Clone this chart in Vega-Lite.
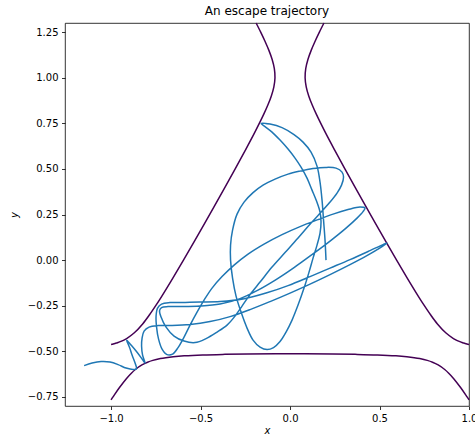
{
  "$schema": "https://vega.github.io/schema/vega-lite/v6.json",
  "autosize": {"type": "none"},
  "padding": {"left": 65, "top": 23, "right": 6, "bottom": 31},
  "width": 404,
  "height": 383,
  "background": "white",
  "title": {"text": "An escape trajectory", "font": "DejaVu Sans", "fontSize": 12, "fontWeight": "normal", "color": "black", "anchor": "middle", "offset": 2},
  "config": {
    "view": {"stroke": "black", "strokeWidth": 0.8},
    "axis": {"grid": false, "domain": false, "tickColor": "black", "tickSize": 3.5, "tickWidth": 0.8, "labelFont": "DejaVu Sans", "labelFontSize": 10, "labelColor": "black", "labelPadding": 3.5, "titleFont": "DejaVu Sans", "titleFontSize": 10, "titleFontStyle": "italic", "titleFontWeight": "normal", "titleColor": "black", "labelFlush": false, "labelOverlap": false, "labelBound": false}
  },
  "datasets": {
    "contour": [
      {"b": "L", "i": 0, "x": -1.0, "y": -0.463},
      {"b": "L", "i": 1, "x": -0.9881, "y": -0.46},
      {"b": "L", "i": 2, "x": -0.9706, "y": -0.455},
      {"b": "L", "i": 3, "x": -0.9558, "y": -0.45},
      {"b": "L", "i": 4, "x": -0.913, "y": -0.43},
      {"b": "L", "i": 5, "x": -0.8716, "y": -0.4},
      {"b": "L", "i": 6, "x": -0.8236, "y": -0.35},
      {"b": "L", "i": 7, "x": -0.7852, "y": -0.3},
      {"b": "L", "i": 8, "x": -0.7506, "y": -0.25},
      {"b": "L", "i": 9, "x": -0.7179, "y": -0.2},
      {"b": "L", "i": 10, "x": -0.6557, "y": -0.1},
      {"b": "L", "i": 11, "x": -0.5955, "y": 0.0},
      {"b": "L", "i": 12, "x": -0.5364, "y": 0.1},
      {"b": "L", "i": 13, "x": -0.478, "y": 0.2},
      {"b": "L", "i": 14, "x": -0.4203, "y": 0.3},
      {"b": "L", "i": 15, "x": -0.3631, "y": 0.4},
      {"b": "L", "i": 16, "x": -0.3065, "y": 0.5},
      {"b": "L", "i": 17, "x": -0.251, "y": 0.6},
      {"b": "L", "i": 18, "x": -0.1971, "y": 0.7},
      {"b": "L", "i": 19, "x": -0.1467, "y": 0.8},
      {"b": "L", "i": 20, "x": -0.124, "y": 0.85},
      {"b": "L", "i": 21, "x": -0.1045, "y": 0.9},
      {"b": "L", "i": 22, "x": -0.0904, "y": 0.95},
      {"b": "L", "i": 23, "x": -0.0842, "y": 1.0},
      {"b": "L", "i": 24, "x": -0.0877, "y": 1.05},
      {"b": "L", "i": 25, "x": -0.0999, "y": 1.1},
      {"b": "L", "i": 26, "x": -0.1181, "y": 1.15},
      {"b": "L", "i": 27, "x": -0.14, "y": 1.2},
      {"b": "L", "i": 28, "x": -0.164, "y": 1.25},
      {"b": "L", "i": 29, "x": -0.1895, "y": 1.3},
      {"b": "R", "i": 0, "x": 1.0, "y": -0.463},
      {"b": "R", "i": 1, "x": 0.9881, "y": -0.46},
      {"b": "R", "i": 2, "x": 0.9706, "y": -0.455},
      {"b": "R", "i": 3, "x": 0.9558, "y": -0.45},
      {"b": "R", "i": 4, "x": 0.913, "y": -0.43},
      {"b": "R", "i": 5, "x": 0.8716, "y": -0.4},
      {"b": "R", "i": 6, "x": 0.8236, "y": -0.35},
      {"b": "R", "i": 7, "x": 0.7852, "y": -0.3},
      {"b": "R", "i": 8, "x": 0.7506, "y": -0.25},
      {"b": "R", "i": 9, "x": 0.7179, "y": -0.2},
      {"b": "R", "i": 10, "x": 0.6557, "y": -0.1},
      {"b": "R", "i": 11, "x": 0.5955, "y": 0.0},
      {"b": "R", "i": 12, "x": 0.5364, "y": 0.1},
      {"b": "R", "i": 13, "x": 0.478, "y": 0.2},
      {"b": "R", "i": 14, "x": 0.4203, "y": 0.3},
      {"b": "R", "i": 15, "x": 0.3631, "y": 0.4},
      {"b": "R", "i": 16, "x": 0.3065, "y": 0.5},
      {"b": "R", "i": 17, "x": 0.251, "y": 0.6},
      {"b": "R", "i": 18, "x": 0.1971, "y": 0.7},
      {"b": "R", "i": 19, "x": 0.1467, "y": 0.8},
      {"b": "R", "i": 20, "x": 0.124, "y": 0.85},
      {"b": "R", "i": 21, "x": 0.1045, "y": 0.9},
      {"b": "R", "i": 22, "x": 0.0904, "y": 0.95},
      {"b": "R", "i": 23, "x": 0.0842, "y": 1.0},
      {"b": "R", "i": 24, "x": 0.0877, "y": 1.05},
      {"b": "R", "i": 25, "x": 0.0999, "y": 1.1},
      {"b": "R", "i": 26, "x": 0.1181, "y": 1.15},
      {"b": "R", "i": 27, "x": 0.14, "y": 1.2},
      {"b": "R", "i": 28, "x": 0.164, "y": 1.25},
      {"b": "R", "i": 29, "x": 0.1895, "y": 1.3},
      {"b": "B", "i": 0, "x": -1.0, "y": -0.766},
      {"b": "B", "i": 1, "x": -0.9891, "y": -0.75},
      {"b": "B", "i": 2, "x": -0.954, "y": -0.7},
      {"b": "B", "i": 3, "x": -0.9147, "y": -0.65},
      {"b": "B", "i": 4, "x": -0.8867, "y": -0.62},
      {"b": "B", "i": 5, "x": -0.8643, "y": -0.6},
      {"b": "B", "i": 6, "x": -0.8277, "y": -0.575},
      {"b": "B", "i": 7, "x": -0.7962, "y": -0.56},
      {"b": "B", "i": 8, "x": -0.7669, "y": -0.55},
      {"b": "B", "i": 9, "x": -0.7244, "y": -0.54},
      {"b": "B", "i": 10, "x": -0.694, "y": -0.535},
      {"b": "B", "i": 11, "x": -0.6526, "y": -0.53},
      {"b": "B", "i": 12, "x": -0.5915, "y": -0.525},
      {"b": "B", "i": 13, "x": -0.4883, "y": -0.52},
      {"b": "B", "i": 14, "x": -0.3764, "y": -0.517},
      {"b": "B", "i": 15, "x": -0.2371, "y": -0.515},
      {"b": "B", "i": 16, "x": 0.0, "y": -0.5139},
      {"b": "B", "i": 17, "x": 0.2371, "y": -0.515},
      {"b": "B", "i": 18, "x": 0.3764, "y": -0.517},
      {"b": "B", "i": 19, "x": 0.4883, "y": -0.52},
      {"b": "B", "i": 20, "x": 0.5915, "y": -0.525},
      {"b": "B", "i": 21, "x": 0.6526, "y": -0.53},
      {"b": "B", "i": 22, "x": 0.694, "y": -0.535},
      {"b": "B", "i": 23, "x": 0.7244, "y": -0.54},
      {"b": "B", "i": 24, "x": 0.7669, "y": -0.55},
      {"b": "B", "i": 25, "x": 0.7962, "y": -0.56},
      {"b": "B", "i": 26, "x": 0.8277, "y": -0.575},
      {"b": "B", "i": 27, "x": 0.8643, "y": -0.6},
      {"b": "B", "i": 28, "x": 0.8867, "y": -0.62},
      {"b": "B", "i": 29, "x": 0.9147, "y": -0.65},
      {"b": "B", "i": 30, "x": 0.954, "y": -0.7},
      {"b": "B", "i": 31, "x": 0.9891, "y": -0.75},
      {"b": "B", "i": 32, "x": 1.0, "y": -0.766}
    ],
    "traj": [
      {"i": 1, "x": 0.201, "y": 0.0},
      {"i": 2, "x": 0.1955, "y": 0.1096},
      {"i": 3, "x": 0.1872, "y": 0.2193},
      {"i": 4, "x": 0.1788, "y": 0.3289},
      {"i": 5, "x": 0.1676, "y": 0.4276},
      {"i": 6, "x": 0.1508, "y": 0.5154},
      {"i": 7, "x": 0.1173, "y": 0.5921},
      {"i": 8, "x": 0.0726, "y": 0.6469},
      {"i": 9, "x": 0.0223, "y": 0.688},
      {"i": 10, "x": -0.0447, "y": 0.7264},
      {"i": 11, "x": -0.1117, "y": 0.7456},
      {"i": 12, "x": -0.162, "y": 0.7495},
      {"i": 13, "x": -0.1397, "y": 0.7319},
      {"i": 14, "x": -0.1006, "y": 0.7018},
      {"i": 15, "x": -0.0559, "y": 0.6579},
      {"i": 16, "x": -0.0112, "y": 0.6086},
      {"i": 17, "x": 0.0279, "y": 0.5592},
      {"i": 18, "x": 0.0615, "y": 0.5099},
      {"i": 19, "x": 0.095, "y": 0.4496},
      {"i": 20, "x": 0.1229, "y": 0.3838},
      {"i": 21, "x": 0.148, "y": 0.3235},
      {"i": 22, "x": 0.1676, "y": 0.2632},
      {"i": 23, "x": 0.1732, "y": 0.2083},
      {"i": 24, "x": 0.1676, "y": 0.148},
      {"i": 25, "x": 0.1508, "y": 0.0822},
      {"i": 26, "x": 0.1285, "y": 0.011},
      {"i": 27, "x": 0.1061, "y": -0.0658},
      {"i": 28, "x": 0.0782, "y": -0.1535},
      {"i": 29, "x": 0.0447, "y": -0.2467},
      {"i": 30, "x": 0.0112, "y": -0.3289},
      {"i": 31, "x": -0.0223, "y": -0.3947},
      {"i": 32, "x": -0.0559, "y": -0.4468},
      {"i": 33, "x": -0.0922, "y": -0.4797},
      {"i": 34, "x": -0.1285, "y": -0.4907},
      {"i": 35, "x": -0.1676, "y": -0.477},
      {"i": 36, "x": -0.2067, "y": -0.4386},
      {"i": 37, "x": -0.2402, "y": -0.3728},
      {"i": 38, "x": -0.2737, "y": -0.2851},
      {"i": 39, "x": -0.3017, "y": -0.1974},
      {"i": 40, "x": -0.3212, "y": -0.0987},
      {"i": 41, "x": -0.3324, "y": 0.0},
      {"i": 42, "x": -0.3324, "y": 0.0822},
      {"i": 43, "x": -0.3212, "y": 0.1645},
      {"i": 44, "x": -0.2961, "y": 0.2522},
      {"i": 45, "x": -0.257, "y": 0.318},
      {"i": 46, "x": -0.2067, "y": 0.3701},
      {"i": 47, "x": -0.1508, "y": 0.4112},
      {"i": 48, "x": -0.0838, "y": 0.4441},
      {"i": 49, "x": -0.0112, "y": 0.4715},
      {"i": 50, "x": 0.0559, "y": 0.4879},
      {"i": 51, "x": 0.1285, "y": 0.5016},
      {"i": 52, "x": 0.1955, "y": 0.5082},
      {"i": 53, "x": 0.257, "y": 0.5044},
      {"i": 54, "x": 0.2905, "y": 0.4825},
      {"i": 55, "x": 0.2989, "y": 0.455},
      {"i": 56, "x": 0.2877, "y": 0.4112},
      {"i": 57, "x": 0.2626, "y": 0.3673},
      {"i": 58, "x": 0.2235, "y": 0.318},
      {"i": 59, "x": 0.1788, "y": 0.2686},
      {"i": 60, "x": 0.1173, "y": 0.2029},
      {"i": 61, "x": 0.0447, "y": 0.1206},
      {"i": 62, "x": -0.0279, "y": 0.0411},
      {"i": 63, "x": -0.1006, "y": -0.0384},
      {"i": 64, "x": -0.1676, "y": -0.1206},
      {"i": 65, "x": -0.2235, "y": -0.1891},
      {"i": 66, "x": -0.2682, "y": -0.2522},
      {"i": 67, "x": -0.3073, "y": -0.307},
      {"i": 68, "x": -0.352, "y": -0.3564},
      {"i": 69, "x": -0.4078, "y": -0.3947},
      {"i": 70, "x": -0.4693, "y": -0.4304},
      {"i": 71, "x": -0.5307, "y": -0.4523},
      {"i": 72, "x": -0.5922, "y": -0.4441},
      {"i": 73, "x": -0.648, "y": -0.4167},
      {"i": 74, "x": -0.6927, "y": -0.3673},
      {"i": 75, "x": -0.7207, "y": -0.3125},
      {"i": 76, "x": -0.7291, "y": -0.2769},
      {"i": 77, "x": -0.7179, "y": -0.2604},
      {"i": 78, "x": -0.6816, "y": -0.2549},
      {"i": 79, "x": -0.6145, "y": -0.2549},
      {"i": 80, "x": -0.5028, "y": -0.2522},
      {"i": 81, "x": -0.3911, "y": -0.2412},
      {"i": 82, "x": -0.2793, "y": -0.2111},
      {"i": 83, "x": -0.1788, "y": -0.1645},
      {"i": 84, "x": -0.0782, "y": -0.1069},
      {"i": 85, "x": 0.0223, "y": -0.0411},
      {"i": 86, "x": 0.1229, "y": 0.0302},
      {"i": 87, "x": 0.2235, "y": 0.1042},
      {"i": 88, "x": 0.3128, "y": 0.1754},
      {"i": 89, "x": 0.3743, "y": 0.2303},
      {"i": 90, "x": 0.4078, "y": 0.2659},
      {"i": 91, "x": 0.419, "y": 0.2851},
      {"i": 92, "x": 0.3911, "y": 0.2906},
      {"i": 93, "x": 0.324, "y": 0.2769},
      {"i": 94, "x": 0.2402, "y": 0.2522},
      {"i": 95, "x": 0.1564, "y": 0.222},
      {"i": 96, "x": 0.0559, "y": 0.1837},
      {"i": 97, "x": -0.0447, "y": 0.1398},
      {"i": 98, "x": -0.1453, "y": 0.0877},
      {"i": 99, "x": -0.2346, "y": 0.0329},
      {"i": 100, "x": -0.3128, "y": -0.0274},
      {"i": 101, "x": -0.3799, "y": -0.0905},
      {"i": 102, "x": -0.4358, "y": -0.1535},
      {"i": 103, "x": -0.4804, "y": -0.2193},
      {"i": 104, "x": -0.5196, "y": -0.2851},
      {"i": 105, "x": -0.5587, "y": -0.3564},
      {"i": 106, "x": -0.5922, "y": -0.4221},
      {"i": 107, "x": -0.6257, "y": -0.4797},
      {"i": 108, "x": -0.6564, "y": -0.5154},
      {"i": 109, "x": -0.6872, "y": -0.5181},
      {"i": 110, "x": -0.7151, "y": -0.4879},
      {"i": 111, "x": -0.7346, "y": -0.4331},
      {"i": 112, "x": -0.7458, "y": -0.3673},
      {"i": 113, "x": -0.7486, "y": -0.307},
      {"i": 114, "x": -0.7402, "y": -0.2632},
      {"i": 115, "x": -0.7179, "y": -0.2412},
      {"i": 116, "x": -0.6704, "y": -0.233},
      {"i": 117, "x": -0.5866, "y": -0.2319},
      {"i": 118, "x": -0.5028, "y": -0.2303},
      {"i": 119, "x": -0.3911, "y": -0.2275},
      {"i": 120, "x": -0.2626, "y": -0.2138},
      {"i": 121, "x": -0.1341, "y": -0.1809},
      {"i": 122, "x": -0.0112, "y": -0.1398},
      {"i": 123, "x": 0.1117, "y": -0.0905},
      {"i": 124, "x": 0.2235, "y": -0.0439},
      {"i": 125, "x": 0.3352, "y": 0.0027},
      {"i": 126, "x": 0.4469, "y": 0.0521},
      {"i": 127, "x": 0.5196, "y": 0.085},
      {"i": 128, "x": 0.5419, "y": 0.0932},
      {"i": 129, "x": 0.514, "y": 0.074},
      {"i": 130, "x": 0.4246, "y": 0.0219},
      {"i": 131, "x": 0.324, "y": -0.0302},
      {"i": 132, "x": 0.2235, "y": -0.0795},
      {"i": 133, "x": 0.1117, "y": -0.1316},
      {"i": 134, "x": 0.0, "y": -0.1809},
      {"i": 135, "x": -0.1117, "y": -0.2275},
      {"i": 136, "x": -0.2235, "y": -0.2714},
      {"i": 137, "x": -0.3352, "y": -0.3098},
      {"i": 138, "x": -0.4469, "y": -0.3372},
      {"i": 139, "x": -0.5587, "y": -0.3536},
      {"i": 140, "x": -0.6592, "y": -0.3591},
      {"i": 141, "x": -0.7374, "y": -0.3591},
      {"i": 142, "x": -0.7877, "y": -0.3673},
      {"i": 143, "x": -0.8156, "y": -0.3893},
      {"i": 144, "x": -0.8268, "y": -0.4276},
      {"i": 145, "x": -0.8296, "y": -0.4715},
      {"i": 146, "x": -0.824, "y": -0.5208},
      {"i": 147, "x": -0.8101, "y": -0.5647},
      {"i": 148, "x": -0.8324, "y": -0.5345},
      {"i": 149, "x": -0.8603, "y": -0.4989},
      {"i": 150, "x": -0.8883, "y": -0.466},
      {"i": 151, "x": -0.913, "y": -0.4386},
      {"i": 152, "x": -0.8966, "y": -0.4797},
      {"i": 153, "x": -0.8827, "y": -0.5208},
      {"i": 154, "x": -0.8659, "y": -0.5647},
      {"i": 155, "x": -0.858, "y": -0.596},
      {"i": 156, "x": -0.877, "y": -0.6},
      {"i": 157, "x": -0.9162, "y": -0.5921},
      {"i": 158, "x": -0.9609, "y": -0.5729},
      {"i": 159, "x": -1.0056, "y": -0.5592},
      {"i": 160, "x": -1.0559, "y": -0.5565},
      {"i": 161, "x": -1.1061, "y": -0.5647},
      {"i": 162, "x": -1.1508, "y": -0.5784}
    ]
  },
  "encoding": {
    "x": {"field": "x", "type": "quantitative", "scale": {"domain": [-1.2575, 1.0], "nice": false, "zero": false}, "axis": {"values": [-1, -0.5, 0, 0.5, 1], "format": ".1f", "title": "x", "titlePadding": 2}},
    "y": {"field": "y", "type": "quantitative", "scale": {"domain": [-0.8, 1.3], "nice": false, "zero": false}, "axis": {"values": [-0.75, -0.5, -0.25, 0, 0.25, 0.5, 0.75, 1, 1.25], "format": ".2f", "title": "y", "titlePadding": 8}},
    "order": {"field": "i", "type": "quantitative"}
  },
  "layer": [
    {
      "data": {"name": "contour"},
      "mark": {"type": "line", "stroke": "#440154", "strokeWidth": 1.5, "interpolate": "catmull-rom"},
      "encoding": {"detail": {"field": "b", "type": "nominal"}}
    },
    {
      "data": {"name": "traj"},
      "mark": {"type": "line", "stroke": "#1f77b4", "strokeWidth": 1.5, "interpolate": "catmull-rom"},
      "encoding": {}
    }
  ]
}
